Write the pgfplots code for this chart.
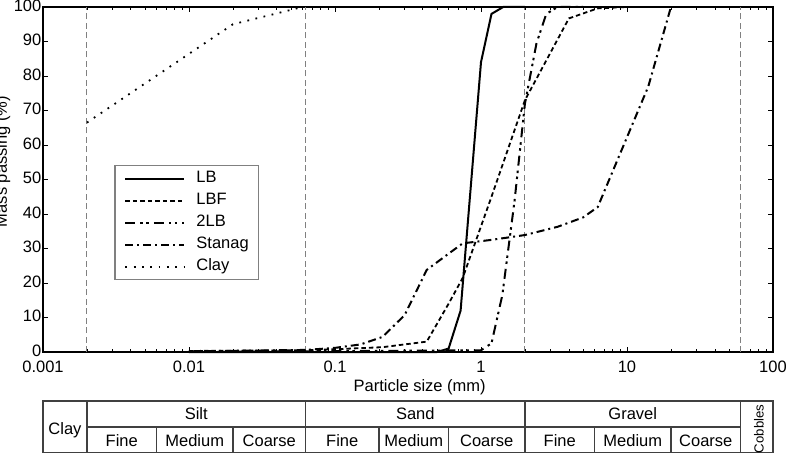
\documentclass[border=0pt]{standalone}
\usepackage{fontspec}
\setmainfont{Liberation Sans}
\usepackage{pgfplots}
\pgfplotsset{compat=1.18}

\newcommand\fs{\fontsize{16.5bp}{19bp}\selectfont}
\newcommand\fss{\fontsize{13.2bp}{15bp}\selectfont}

\begin{document}
\begin{tikzpicture}
\begin{axis}[
  at={(0,0)}, anchor=south west,
  scale only axis, width=730bp, height=345bp,
  xmode=log, xmin=0.001, xmax=100, ymin=0, ymax=100,
  xtick={0.001,0.01,0.1,1,10,100},
  xticklabels={0.001,0.01,0.1,1,10,100},
  ytick={0,10,...,100},
  tick align=inside, tick pos=both,
  major tick length=5bp, minor tick length=3bp,
  every tick/.style={black, line width=0.8bp},
  axis line style={line width=1.5bp},
  font=\fs,
  /pgf/number format/assume math mode=true,
  xticklabel style={anchor=base, yshift=-20bp, font=\fs},
  yticklabel style={inner xsep=1.5bp, yshift=1.5bp, font=\fs},
  xlabel={Particle size (mm)},
  ylabel={Mass passing (\%)},
  xlabel style={at={(axis description cs:0.516,-0.1159)}, anchor=base, font=\fs},
  ylabel style={at={(axis description cs:-0.0495,0.552)}, anchor=base, font=\fs},
  legend style={at={(axis description cs:0.0977,0.542)}, anchor=north west,
    draw=black!50, line width=1.2bp, inner xsep=9.5bp, inner ysep=5bp,
    row sep=6bp, column sep=11bp, font=\fs,
    nodes={inner sep=0pt, text height=12bp, text depth=4bp}},
  legend cell align=left,
  legend image code/.code={\draw[#1] (0bp,0bp) -- (59bp,0bp);},
  clip=false,
]
% particle size class boundaries
\addplot[forget plot, black!50, line width=1bp, dash pattern=on 6bp off 3.5bp] coordinates {(0.002,0) (0.002,100)};
\addplot[forget plot, black!50, line width=1bp, dash pattern=on 6bp off 3.5bp] coordinates {(0.063,0) (0.063,100)};
\addplot[forget plot, black!50, line width=1bp, dash pattern=on 6bp off 3.5bp] coordinates {(2,0) (2,100)};
\addplot[forget plot, black!50, line width=1bp, dash pattern=on 6bp off 3.5bp] coordinates {(60,0) (60,100)};

% grading curves
\addplot[black, line width=2bp] coordinates {
  (0.01,0) (0.5,0) (0.6,1) (0.725,12) (1.0,84) (1.18,98) (1.42,100) (2,100)};
\addlegendentry{LB}
\addplot[black, line width=1.8bp, dash pattern=on 4.5bp off 3bp] coordinates {
  (0.01,0.3) (0.063,0.5) (0.1,0.8) (0.212,1.4) (0.425,3) (0.6,14) (0.75,21.5)
  (1.18,45) (2,73) (4,96.7) (6.3,99.6) (10,100)};
\addlegendentry{LBF}
\addplot[black, line width=2bp, dash pattern=on 10bp off 5bp on 2.5bp off 3.5bp on 2.5bp off 5bp] coordinates {
  (0.01,0) (1.0,0.5) (1.18,2.5) (1.4,16.5) (1.7,44) (2,72) (2.4,89.5) (2.8,98) (3.35,100) (5,100)};
\addlegendentry{2LB}
\addplot[black, line width=2bp, dash pattern=on 8bp off 4bp on 2bp off 4bp] coordinates {
  (0.01,0.2) (0.063,0.6) (0.1,1.2) (0.15,2.2) (0.212,4.4) (0.3,10.7) (0.425,23.8)
  (0.6,28.5) (0.75,31.5) (1.18,32.5) (2,33.9) (3.35,36.3) (5,39) (6.3,42)
  (14,77) (20,100)};
\addlegendentry{Stanag}
\addplot[black, line width=1.8bp, dash pattern=on 1.8bp off 6.5bp] coordinates {
  (0.002,66.5) (0.02,95) (0.06,100)};
\addlegendentry{Clay}

% soil classification table
\draw[black!75, line width=1.2bp] (axis cs:0.001,-14.2) rectangle (axis cs:100,-29.2);
\draw[black!75, line width=1.2bp] (axis cs:0.002,-21.74) -- (axis cs:60,-21.74);
\draw[black!75, line width=1.2bp] (axis cs:0.002,-14.2) -- (axis cs:0.002,-29.2);
\draw[black!75, line width=1.2bp] (axis cs:0.063,-14.2) -- (axis cs:0.063,-29.2);
\draw[black!75, line width=1.2bp] (axis cs:2,-14.2) -- (axis cs:2,-29.2);
\draw[black!75, line width=1.2bp] (axis cs:60,-14.2) -- (axis cs:60,-29.2);
\draw[black!75, line width=1.2bp] (axis cs:0.006,-21.74) -- (axis cs:0.006,-29.2);
\draw[black!75, line width=1.2bp] (axis cs:0.02,-21.74) -- (axis cs:0.02,-29.2);
\draw[black!75, line width=1.2bp] (axis cs:0.2,-21.74) -- (axis cs:0.2,-29.2);
\draw[black!75, line width=1.2bp] (axis cs:0.6,-21.74) -- (axis cs:0.6,-29.2);
\draw[black!75, line width=1.2bp] (axis cs:6,-21.74) -- (axis cs:6,-29.2);
\draw[black!75, line width=1.2bp] (axis cs:20,-21.74) -- (axis cs:20,-29.2);
\node[black, font=\fs, inner sep=0pt, anchor=base] at (axis cs:0.001414,-23.9) {Clay};
\node[black, font=\fs, inner sep=0pt, anchor=base] at (axis cs:0.01122,-19.7) {Silt};
\node[black, font=\fs, inner sep=0pt, anchor=base] at (axis cs:0.355,-19.7) {Sand};
\node[black, font=\fs, inner sep=0pt, anchor=base] at (axis cs:10.95,-19.7) {Gravel};
\node[black, font=\fs, inner sep=0pt, anchor=base] at (axis cs:0.003464,-27.25) {Fine};
\node[black, font=\fs, inner sep=0pt, anchor=base] at (axis cs:0.01095,-27.25) {Medium};
\node[black, font=\fs, inner sep=0pt, anchor=base] at (axis cs:0.0355,-27.25) {Coarse};
\node[black, font=\fs, inner sep=0pt, anchor=base] at (axis cs:0.1122,-27.25) {Fine};
\node[black, font=\fs, inner sep=0pt, anchor=base] at (axis cs:0.3464,-27.25) {Medium};
\node[black, font=\fs, inner sep=0pt, anchor=base] at (axis cs:1.095,-27.25) {Coarse};
\node[black, font=\fs, inner sep=0pt, anchor=base] at (axis cs:3.464,-27.25) {Fine};
\node[black, font=\fs, inner sep=0pt, anchor=base] at (axis cs:10.95,-27.25) {Medium};
\node[black, font=\fs, inner sep=0pt, anchor=base] at (axis cs:34.64,-27.25) {Coarse};
\node[black, font=\fss, inner sep=0pt, rotate=90, anchor=center] at (axis cs:80,-22.3) {Cobbles};
\end{axis}
\pgfresetboundingbox
\path[use as bounding box] (-43bp,-106bp) rectangle (743bp,352bp);
\end{tikzpicture}
\end{document}
